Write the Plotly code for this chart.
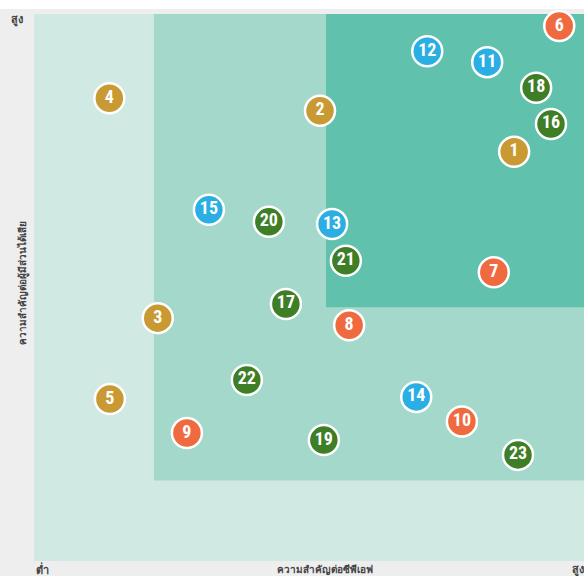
import plotly.graph_objects as go

# ---- data (0-10 scale: x = importance to CPF, y = importance to stakeholders)
ids = ["1", "2", "3", "4", "5", "6", "7", "8", "9", "10", "11", "12",
       "13", "14", "15", "16", "17", "18", "19", "20", "21", "22", "23"]
x_vals = [8.73, 5.20, 2.25, 1.37, 1.38, 9.55, 8.36, 5.73, 2.78, 7.78, 8.24, 7.15,
          5.42, 6.95, 3.18, 9.40, 4.58, 9.13, 5.27, 4.27, 5.67, 3.87, 8.80]
y_vals = [7.48, 8.23, 4.44, 8.46, 2.96, 9.78, 5.28, 4.31, 2.34, 2.55, 9.12, 9.32,
          6.16, 3.00, 6.42, 7.99, 4.70, 8.65, 2.21, 6.20, 5.49, 3.31, 1.94]
groups = ["econ", "econ", "econ", "econ", "econ", "soc", "soc", "soc", "soc", "soc", "env", "env",
          "env", "env", "env", "gov", "gov", "gov", "gov", "gov", "gov", "gov", "gov"]
group_colors = {"econ": "#c99a33", "soc": "#f06a40", "env": "#2aaee3", "gov": "#3e7e26"}

# zones: (x0, y0) lower-left corners, each extends to the top-right corner
zone_x0 = [2.18, 5.31]
zone_y0 = [1.47, 4.64]
zone_colors = ["#a3d8cb", "#60c2ad"]

W, H = 584, 576
L, R, T, B = 34, 0, 14, 15
PW, PH = W - L - R, H - T - B


def px(xp):
    return (xp - L) / PW


def py(yp):
    return (H - B - yp) / PH


fig = go.Figure()

fig.add_trace(go.Scatter(
    x=x_vals, y=y_vals, mode="markers+text", text=ids,
    textposition="middle center",
    textfont=dict(family="Liberation Sans Narrow, Roboto Condensed, Roboto, Arial", size=18,
                  color="white", weight="bold"),
    marker=dict(size=30, color=[group_colors[g] for g in groups],
                line=dict(color="white", width=2.5)),
    hoverinfo="skip", showlegend=False, cliponaxis=False,
))

shapes = []
for x0, y0, c in zip(zone_x0, zone_y0, zone_colors):
    shapes.append(dict(type="rect", xref="x", yref="y", x0=x0, x1=10, y0=y0, y1=10,
                       fillcolor=c, line=dict(width=0), layer="below"))
# white strip at the very top of the page
shapes.append(dict(type="rect", xref="paper", yref="paper", x0=-L / PW, x1=1.0,
                   y0=py(9), y1=py(-2), fillcolor="white", line=dict(width=0), layer="above"))

lab_font = dict(family="Noto Sans, DejaVu Sans, sans-serif", size=11, color="#444444")
common = dict(xref="paper", yref="paper", showarrow=False, xanchor="center", yanchor="middle")
annotations = [
    dict(text="<b>สูง</b>", x=px(17), y=py(19), font=lab_font, **common),
    dict(text="<b>ต่ำ</b>", x=px(42), y=py(569), font=lab_font, **common),
    dict(text="<b>ความสำคัญต่อซีพีเอฟ</b>", x=px(325), y=py(569),
         font=dict(lab_font, size=10), **common),
    dict(text="<b>สูง</b>", x=px(578), y=py(569), font=lab_font, **common),
    dict(text="<b>ความสำคัญต่อผู้มีส่วนได้เสีย</b>", x=px(22), y=py(283), textangle=-90,
         font=dict(lab_font, size=10), **common),
]

fig.update_layout(
    width=W, height=H,
    margin=dict(l=L, r=R, t=T, b=B),
    paper_bgcolor="#eeeeef",
    plot_bgcolor="#d0e9e3",
    xaxis=dict(range=[0, 10], showgrid=False, zeroline=False, showticklabels=False,
               fixedrange=True),
    yaxis=dict(range=[0, 10], showgrid=False, zeroline=False, showticklabels=False,
               fixedrange=True),
    shapes=shapes,
    annotations=annotations,
)

fig.write_html("out.html", config={"displayModeBar": False},
               post_script="document.body.style.margin='0';")
